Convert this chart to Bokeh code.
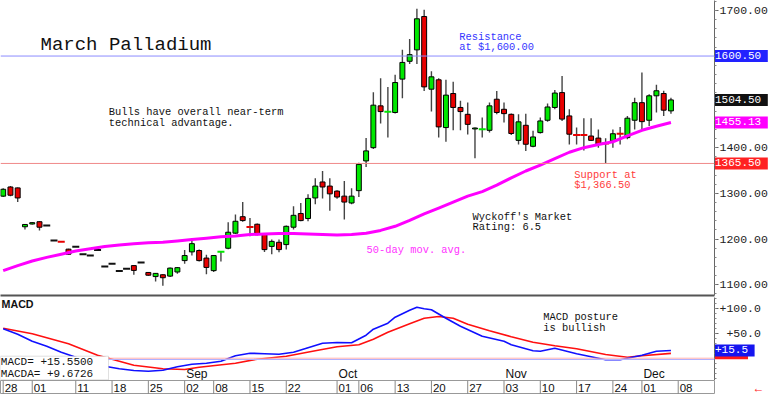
import math
import pandas as pd
from bokeh.plotting import figure
from bokeh.models import Range1d, FixedTicker, PrintfTickFormatter, Label, BoxAnnotation, Span
from bokeh.layouts import column
from bokeh.embed import file_html
from bokeh.resources import INLINE
from bokeh.core.properties import value

# ---------------- data ----------------
holidays = ["2025-09-01", "2025-11-27"]
calendar = [d for d in pd.bdate_range("2025-07-28", "2025-12-08") if d.strftime("%Y-%m-%d") not in holidays]

opens = [1294, 1314, 1312, 1227, 1233, 1238, 1230, 1197, 1194.5, 1178,
         1183.5, 1167, 1164, 1176, 1140, 1146, 1130, 1135, 1142, 1149,
         1127, 1118, 1122, 1119, 1128, 1153, 1172, 1175, 1158.5, 1131,
         1172, 1180, 1213, 1249, 1227, 1232.5, 1210, 1184, 1193, 1188,
         1226, 1256, 1245, 1290, 1325, 1316, 1305, 1294, 1279, 1306,
         1371, 1400, 1491.5, 1478, 1477, 1550, 1589, 1614, 1687, 1528,
         1548.5, 1444, 1518.5, 1488, 1473, 1441, 1440, 1438, 1506, 1484,
         1473, 1416, 1449, 1403, 1433, 1460, 1488, 1520.5, 1469.5, 1428,
         1428, 1425.5, 1421, 1409.5, 1414.5, 1431, 1422, 1460, 1498.5, 1460,
         1513.5, 1518.5, 1480.5]
highs = [1311, 1316, 1313, 1233, 1237, 1239, 1230, 1197, 1194.5, 1179,
         1183.5, 1167, 1164, 1176, 1140, 1146, 1130, 1135, 1143, 1149,
         1128, 1126, 1123, 1138, 1139, 1176, 1199, 1177, 1166, 1165,
         1174, 1237, 1254, 1281, 1246, 1234, 1212, 1199, 1199, 1230,
         1272, 1279, 1298, 1333, 1349, 1333, 1307, 1327, 1311, 1367,
         1421, 1521, 1552, 1533, 1559.5, 1614, 1638, 1704, 1701.5, 1567,
         1552, 1548.5, 1544, 1502.5, 1499, 1444, 1466, 1499, 1524, 1499,
         1475, 1473, 1474.5, 1437, 1466, 1496.5, 1526, 1557, 1484, 1444,
         1464.5, 1464.5, 1440, 1420.5, 1440, 1445, 1469.5, 1509.5, 1564.5, 1517,
         1537.5, 1524.5, 1509.5]
lows = [1292, 1294, 1281, 1221, 1232, 1219, 1230, 1197, 1193.5, 1166,
        1183.5, 1167, 1164, 1176, 1140, 1146, 1130, 1135, 1122, 1149,
        1120, 1107, 1098, 1117, 1124, 1146, 1164, 1151, 1123, 1128,
        1151, 1178, 1211, 1238, 1206, 1208, 1172, 1167, 1171, 1177,
        1221, 1239, 1239, 1276, 1289, 1262, 1288, 1243, 1276, 1292,
        1358, 1397, 1453, 1422, 1475, 1508, 1583, 1583, 1524, 1479,
        1422, 1413, 1438, 1438, 1429, 1377, 1422, 1433, 1473, 1455,
        1428, 1407, 1393, 1401, 1431, 1457, 1484, 1458.5, 1407, 1407,
        1394, 1414.5, 1400, 1366.5, 1400, 1407, 1418.5, 1440, 1440, 1447.5,
        1477, 1469.5, 1474.5]
closes = [1309, 1296, 1290, 1232, 1236, 1226, 1230, 1197, 1193.5, 1167,
          1183.5, 1167, 1164, 1176, 1140, 1146, 1130, 1135, 1131.5, 1149,
          1121, 1125, 1115.5, 1136.5, 1137.5, 1164, 1190, 1153, 1138, 1164,
          1173, 1215, 1239, 1240.5, 1226, 1210.5, 1177, 1195, 1177, 1228,
          1252, 1240.5, 1289, 1316, 1314, 1299, 1292, 1281, 1294, 1363.5,
          1393, 1493, 1479, 1479.5, 1542.5, 1586.5, 1603.5, 1682, 1533, 1555,
          1445.5, 1515, 1488, 1479, 1451, 1443, 1441, 1491.5, 1477, 1474.5,
          1431, 1456.5, 1407.5, 1423.5, 1458.5, 1489, 1519.5, 1462.5, 1429.5, 1427,
          1427, 1416, 1407.5, 1408.5, 1430.5, 1430, 1464.5, 1498.5, 1457, 1513.5,
          1524.5, 1482, 1504.5]

ma_day = [0, 2, 4, 6, 8, 10, 12, 14, 16, 18, 20, 22, 24, 26, 28, 30, 32, 34, 36, 38,
          40, 42, 44, 46, 48, 50, 52, 54, 56, 58, 60, 62, 64, 66, 68, 70, 72, 74, 76, 78,
          80, 82, 84, 86, 88, 90, 92]
ma_val = [1131, 1142, 1152, 1160, 1167, 1174, 1179, 1184, 1187, 1190, 1192, 1193, 1196, 1199,
          1202, 1205, 1207, 1210, 1211, 1212, 1212, 1211, 1210, 1209, 1210, 1213, 1219, 1228,
          1241, 1255, 1268, 1281, 1294, 1304, 1318, 1334, 1349, 1362, 1376, 1390, 1400, 1407,
          1413, 1426, 1438, 1447, 1455.13]

macd_day = [0, 2, 4, 6, 8, 10, 12, 14, 16, 18, 20, 22, 24, 26, 28, 30, 32, 34, 36, 38,
            40, 42, 44, 46, 48, 50, 51, 53, 54, 56, 57, 58, 59, 61, 63, 66, 69, 70, 73, 74,
            76, 79, 83, 85, 88, 90, 92]
macd_val = [59, 48, 34, 24, 12, 2, -8, -16, -21, -24.6, -26, -24, -17, -12, -10, -6, 5, 10, 9, 8,
            12, 21, 30, 31.5, 31, 46, 58, 70, 82, 96, 102, 99, 97, 80, 64, 44, 34, 27, 15, 14,
            20, 9, -3, -3, 6, 14, 15.55]
sig_day = [0, 4, 9, 13, 18, 22, 25, 27, 32, 35, 39, 43, 46, 49, 51, 53, 56, 58, 60, 62,
           64, 67, 70, 73, 76, 79, 83, 86, 88, 92]
sig_val = [60, 49, 29, 6, -14, -21, -22.6, -18, -10, -2, 4, 15, 23, 27, 38, 52, 69, 80, 83.4, 80,
           68, 55, 43, 32, 25, 19, 7.4, 2, 5, 9.67]

macd_last = 15.55
macda_last = 9.6726
resistance = 1600.5
support = 1365.5

tick_dates = ["2025-07-28", "2025-08-01", "2025-08-11", "2025-08-18", "2025-08-25", "2025-09-02",
              "2025-09-08", "2025-09-15", "2025-09-22", "2025-10-01", "2025-10-06", "2025-10-13",
              "2025-10-20", "2025-10-27", "2025-11-03", "2025-11-10", "2025-11-17", "2025-11-24",
              "2025-12-01", "2025-12-08"]
month_dates = ["2025-09-02", "2025-10-01", "2025-11-03", "2025-12-01"]
month_names = ["Sep", "Oct", "Nov", "Dec"]

cal_str = [d.strftime("%Y-%m-%d") for d in calendar]
tick_days = [cal_str.index(d) for d in tick_dates]
tick_labels = [d[-2:] for d in tick_dates]
month_days = [cal_str.index(d) for d in month_dates]

# ---------------- styling ----------------
MONO = "Liberation Mono"
SANS = "Liberation Sans"
UP, DN = "#00e800", "#e80000"
FW = 714
RB = 54
x_rng = Range1d(-0.37, 98.0)
X_END = 98.0

def base(fig):
    fig.outline_line_color = None
    fig.grid.visible = False
    fig.background_fill_color = "white"
    fig.border_fill_color = "white"
    return fig

def note(fig, x, y, text, color="#111111", size="10.4px", font=MONO, style="normal"):
    fig.add_layout(Label(x=x, y=y, text=text, text_color=color, text_font=font,
                         text_font_size=size, text_font_style=style,
                         text_align="left", text_baseline="middle"))

def tag(fig, y, text, bg):
    # value tag drawn over the right-hand axis (overlay glyph, not clipped to the frame)
    fig.text(x=[X_END], y=[y], text=[text + "\u00a0"], x_offset=0.5, level="overlay",
             text_color="white", text_font=value(MONO), text_font_size="11px",
             text_align="left", text_baseline="middle", background_fill_color=bg,
             background_fill_alpha=1.0)

def style_right_axis(ax):
    ax.axis_line_color = "#666666"
    ax.major_tick_line_color = "#666666"
    ax.minor_tick_line_color = "#888888"
    ax.major_tick_out = 4; ax.major_tick_in = 0; ax.minor_tick_out = 2; ax.minor_tick_in = 0
    ax.major_label_standoff = 1
    ax.major_label_text_font = MONO
    ax.major_label_text_font_size = "11.5px"
    ax.major_label_text_color = "#222222"

# ---------------- main price panel ----------------
pa = base(figure(frame_width=FW, frame_height=295, x_range=x_rng, y_range=Range1d(1076.6, 1722),
                 output_backend="svg", toolbar_location=None, y_axis_location="right",
                 min_border_left=0, min_border_top=0, min_border_bottom=2, min_border_right=RB))
xa = pa.xaxis[0]
xa.ticker = FixedTicker(ticks=[])
xa.axis_line_color = "#555555"
xa.axis_line_width = 2
xa.major_tick_out = 0; xa.major_tick_in = 0; xa.minor_tick_out = 0; xa.minor_tick_in = 0
xa.major_label_text_font_size = "0px"
xa.major_label_standoff = 0

ya = pa.yaxis[0]
ya.ticker = FixedTicker(ticks=[1100, 1200, 1300, 1400, 1500, 1600, 1700],
                        minor_ticks=list(range(1080, 1721, 20)))
ya.formatter = PrintfTickFormatter(format="%.2f")
# the 1500 and 1600 labels sit underneath the value tags in the original
ya.major_label_overrides = {1500: "", 1600: ""}
style_right_axis(ya)

pa.add_layout(Span(location=resistance, dimension="width", line_color="#8c8cff", line_width=1))
pa.add_layout(Span(location=support, dimension="width", line_color="#f08888", line_width=1))

day = list(range(len(opens)))
wk = [i for i in day if highs[i] > lows[i]]
pa.segment(x0=wk, y0=[lows[i] for i in wk], x1=wk, y1=[highs[i] for i in wk],
           line_color="#444444", line_width=1.4)

bx, btop, bbot, bcol, dx, dy, dcol = [], [], [], [], [], [], []
for i in day:
    o, c = opens[i], closes[i]
    if abs(c - o) >= 2:
        bx.append(i); btop.append(max(o, c)); bbot.append(min(o, c)); bcol.append(UP if c > o else DN)
    else:
        dx.append(i); dy.append((o + c) / 2)
        dcol.append("#111111" if c == o else (UP if c > o else DN))
pa.vbar(x=bx, width=0.68, top=btop, bottom=bbot, fill_color=bcol, line_color="black", line_width=1)
pa.scatter(x=dx, y=dy, marker="dash", size=7, line_color=dcol, line_width=2)

pa.line(ma_day, ma_val, line_color="#ff00ff", line_width=3)

note(pa, 5.14, 1625.4, "March Palladium", size="19px")
note(pa, 62.83, 1641.8, "Resistance", color="#3535ff")
note(pa, 62.83, 1620.3, "at $1,600.00", color="#3535ff")
note(pa, 14.55, 1477.0, "Bulls have overall near-term")
note(pa, 14.55, 1454.0, "technical advantage.")
note(pa, 78.68, 1340.0, "Support at", color="#ff3b3b")
note(pa, 78.68, 1318.0, "$1,366.50", color="#ff3b3b")
note(pa, 64.66, 1248.3, "Wyckoff's Market")
note(pa, 64.66, 1225.9, "Rating: 6.5")
note(pa, 50.06, 1175.8, "50-day mov. avg.", color="#ff33ff")

tag(pa, support, f"{support:.2f}", "#ff2222")
tag(pa, ma_val[-1], f"{ma_val[-1]:.2f}", "#ff00ff")
tag(pa, closes[-1], f"{closes[-1]:.2f}", "#111111")
tag(pa, resistance, f"{resistance:.2f}", "#2222ff")

# ---------------- MACD panel ----------------
pb = base(figure(frame_width=FW, frame_height=83, x_range=x_rng, y_range=Range1d(-44.6, 121.4),
                 output_backend="svg", toolbar_location=None, y_axis_location="right",
                 x_axis_location=None, min_border_left=0, min_border_top=0,
                 min_border_bottom=0, min_border_right=RB))
yb = pb.yaxis[0]
yb.ticker = FixedTicker(ticks=[0, 50, 100], minor_ticks=list(range(-40, 121, 10)))
yb.major_label_overrides = {0: "", 50: "\u00a0+50.0", 100: "+100.0"}
style_right_axis(yb)

pb.add_layout(Span(location=0, dimension="width", line_color="#ffb0b0", line_width=1))
pb.add_layout(Span(location=-2.6, dimension="width", line_color="#b0b0ff", line_width=1))
pb.line(sig_day, sig_val, line_color="#ff1010", line_width=1.6)
pb.line(macd_day, macd_val, line_color="#1010ff", line_width=1.6)

pb.add_layout(BoxAnnotation(left=-0.37, right=14.51, bottom=-43.2, top=4, fill_color="white",
                            fill_alpha=1.0, line_color="#999999", line_width=1))
note(pb, -0.33, -7.2, f"MACD=  {macd_last:+.4f}", size="11px")
note(pb, -0.33, -30.6, f"MACDA=  {macda_last:+.4f}", size="11px")
note(pb, -0.23, 108.8, "MACD", size="10.7px", font=SANS, style="bold")
note(pb, 74.4, 82.0, "MACD posture")
note(pb, 74.4, 61.4, "is bullish")

pb.text(x=month_days, y=[-31.5] * len(month_days), text=month_names, x_offset=1.5,
        text_font=value(SANS), text_font_size="12px", text_color="#111111",
        text_align="left", text_baseline="middle")

tag(pb, macda_last, f"{math.floor(macda_last * 10) / 10:+.1f}", "#ff1a1a")
tag(pb, macd_last, f"{math.floor(macd_last * 10) / 10:+.1f}", "#1414f0")

# ---------------- date strip ----------------
pc = base(figure(frame_width=FW, frame_height=14, x_range=x_rng, y_range=Range1d(0, 1),
                 output_backend="svg", toolbar_location=None, x_axis_location=None,
                 y_axis_location=None, min_border_left=0, min_border_top=0,
                 min_border_bottom=0, min_border_right=RB))
pc.outline_line_color = "#999999"
pc.segment(x0=tick_days, y0=[0] * len(tick_days), x1=tick_days, y1=[1] * len(tick_days),
           line_color="#888888", line_width=1)
pc.text(x=tick_days, y=[0.5] * len(tick_days), text=tick_labels, x_offset=1.5,
        text_font=value(SANS), text_font_size="11.5px", text_color="#111111",
        text_align="left", text_baseline="middle")
pc.text(x=[X_END], y=[0.5], text=["\u2190"], x_offset=38, level="overlay",
        text_color="#ff2020", text_font=value(SANS), text_font_size="12px",
        text_font_style="bold", text_align="left", text_baseline="middle")

layout = column(pa, pb, pc, spacing=0)
open("out.html", "w").write(file_html(layout, INLINE))
